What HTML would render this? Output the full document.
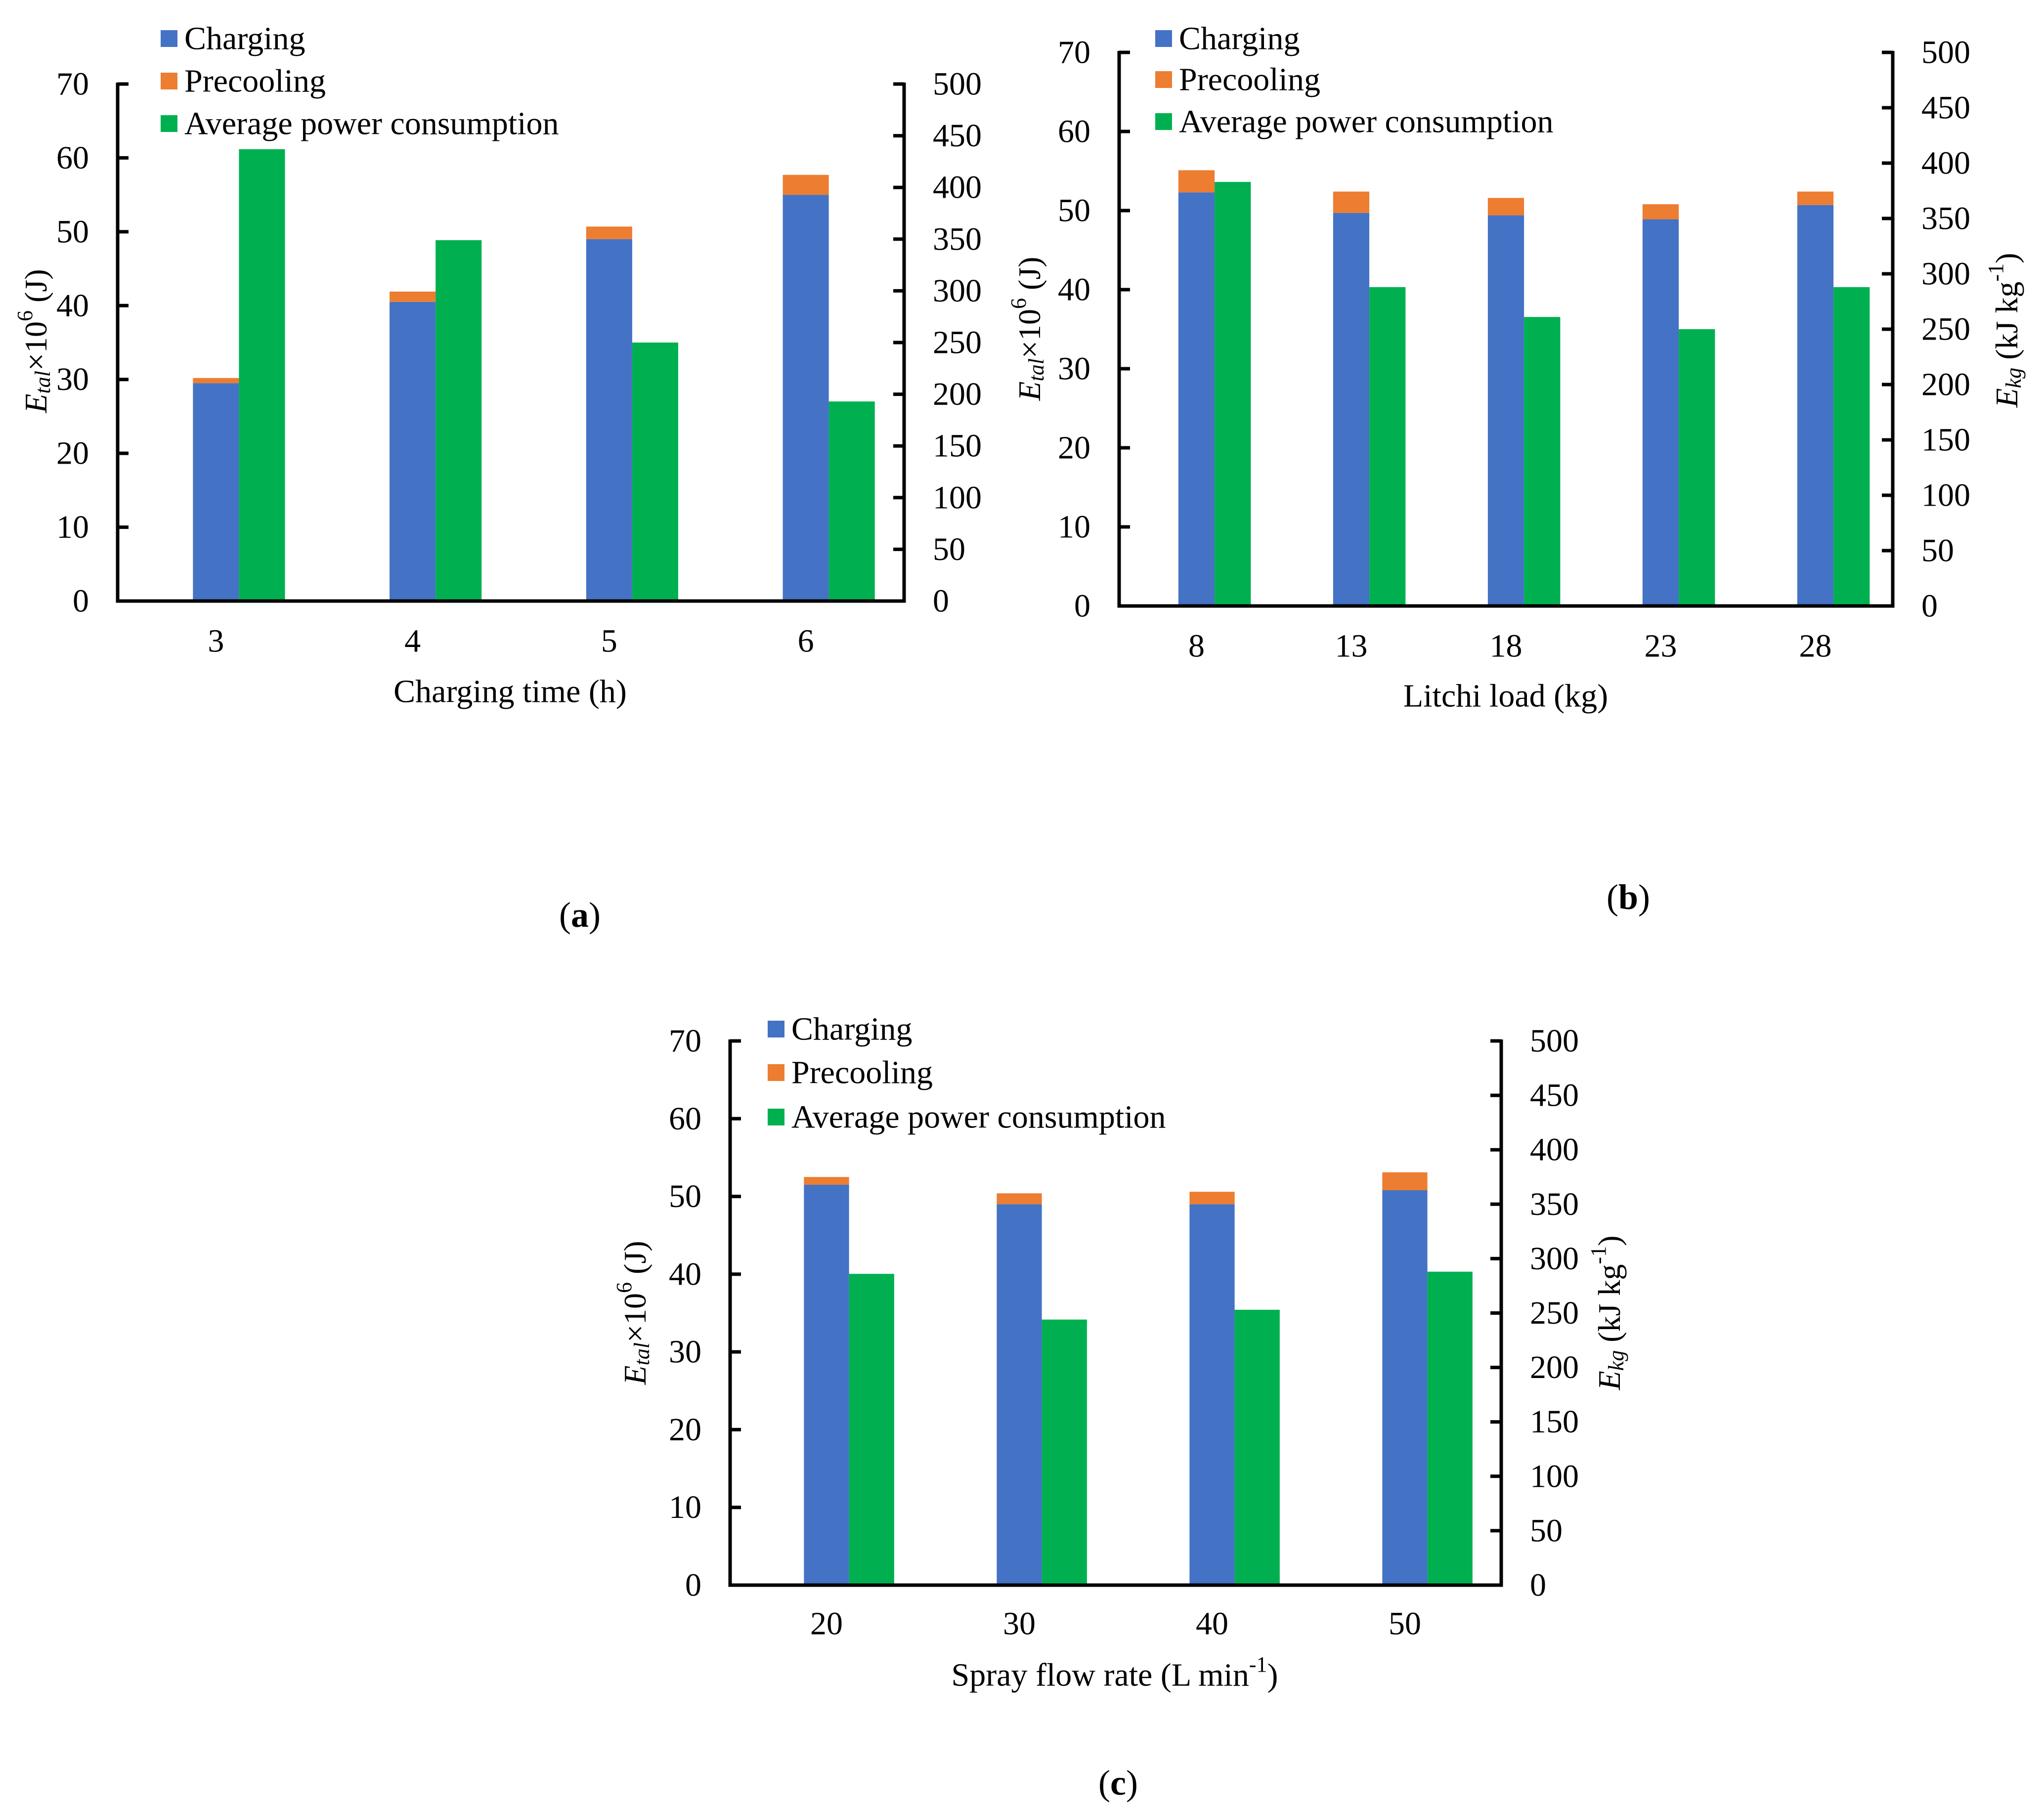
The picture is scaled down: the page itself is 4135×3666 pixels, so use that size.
<!DOCTYPE html>
<html><head><meta charset="utf-8"><style>
html,body{margin:0;padding:0;background:#fff;}
svg{display:block;font-family:"Liberation Serif",serif;}
</style></head><body>
<svg id="fig" width="4135" height="3666" viewBox="0 0 4135 3666" xmlns="http://www.w3.org/2000/svg">
</svg>
<script>
// ---- Chart (a) data ----
const aCategories = ["3", "4", "5", "6"];
const aCharging = [29.5, 40.5, 49.0, 55.0];
const aPrecooling = [0.7, 1.4, 1.7, 2.7];
const aPower = [437, 349, 250, 193];
// ---- Chart (b) data ----
const bCategories = ["8", "13", "18", "23", "28"];
const bCharging = [52.3, 49.7, 49.4, 48.9, 50.7];
const bPrecooling = [2.8, 2.7, 2.2, 1.9, 1.7];
const bPower = [383, 288, 261, 250, 288];
// ---- Chart (c) data ----
const cCategories = ["20", "30", "40", "50"];
const cCharging = [51.5, 49.0, 49.0, 50.8];
const cPrecooling = [1.0, 1.4, 1.6, 2.3];
const cPower = [286, 244, 253, 288];
// ---- shared tick labels ----
const leftTicks = [0, 10, 20, 30, 40, 50, 60, 70];
const rightTicks = [0, 50, 100, 150, 200, 250, 300, 350, 400, 450, 500];
const legendLabels = ["Charging", "Precooling", "Average power consumption"];

const NS = "http://www.w3.org/2000/svg";
const svg = document.getElementById("fig");
const COLORS = ["#4472C4", "#ED7D31", "#00B050"];

function mk(tag, attrs, parent) {
  const e = document.createElementNS(NS, tag);
  for (const k in attrs) e.setAttribute(k, attrs[k]);
  (parent || svg).appendChild(e);
  return e;
}
function txt(parent, x, y, s, size, anchor, extra) {
  const t = mk("text", Object.assign({x: x, y: y, "font-size": size, "text-anchor": anchor || "middle", "dominant-baseline": "central", fill: "#000"}, extra || {}), parent);
  t.textContent = s;
  return t;
}
function etalTitle(parent, x, y, name) {
  const t = mk("text", {x: x, y: y, "font-size": 64, "text-anchor": "middle", "dominant-baseline": "central", transform: "rotate(-90 " + x + " " + y + ")"}, parent);
  
  
  t.innerHTML = '<tspan font-style="italic">E</tspan><tspan font-style="italic" font-size="44" dy="14">tal</tspan><tspan dy="-14">×10</tspan><tspan font-size="44" dy="-22">6</tspan><tspan dy="22"> (J)</tspan>';
  return t;
}
function ekgTitle(parent, x, y, name) {
  const t = mk("text", {x: x, y: y, "font-size": 64, "text-anchor": "middle", "dominant-baseline": "central", transform: "rotate(-90 " + x + " " + y + ")"}, parent);
  
  
  t.innerHTML = '<tspan font-style="italic">E</tspan><tspan font-style="italic" font-size="44" dy="14">kg</tspan><tspan dy="-14"> (kJ kg</tspan><tspan font-size="44" dy="-22">-1</tspan><tspan dy="22">)</tspan>';
  return t;
}

function drawChart(cfg, cats, charging, precool, power) {
  const g = mk("g", {});
  
  
  const L = cfg.left, R = cfg.right, T = cfg.top, B = cfg.bottom;
  const yL = v => B - (v / 70) * (B - T);
  const yR = v => B - (v / 500) * (B - T);
  const cw = (R - L) / cats.length;
  const bw = cw * 0.234;
  const xC = i => L + cw * (i + 0.5);

  for (let i = 0; i < cats.length; i++) {
    const x0 = xC(i) - bw / 2;
    const b1 = mk("rect", {x: x0, y: yL(charging[i]), width: bw, height: B - yL(charging[i]), fill: COLORS[0]}, g);
    
    
    const top = charging[i] + precool[i];
    const b2 = mk("rect", {x: x0, y: yL(top), width: bw, height: yL(charging[i]) - yL(top), fill: COLORS[1]}, g);
    
    
    const b3 = mk("rect", {x: x0 + bw, y: yR(power[i]), width: bw, height: B - yR(power[i]), fill: COLORS[2]}, g);
    
    
    const lab = txt(g, xC(i), cfg.xLabelY, cats[i], 66);
    
    
  }
  const ax = mk("path", {d: "M" + L + " " + (T - 3) + " V" + B + " H" + R + " V" + (T - 3), fill: "none", stroke: "#000", "stroke-width": 7}, g);
  
  
  for (const v of leftTicks) {
    const tk = mk("line", {x1: L, x2: L + 22, y1: yL(v), y2: yL(v), stroke: "#000", "stroke-width": 7}, g);
    
    
    const tl = txt(g, L - 58, yL(v), String(v), 66, "end");
    
    
  }
  for (const v of rightTicks) {
    const tk = mk("line", {x1: R - 22, x2: R, y1: yR(v), y2: yR(v), stroke: "#000", "stroke-width": 7}, g);
    
    
    const tl = txt(g, R + 58, yR(v), String(v), 66, "start");
    
    
  }
  for (let k = 0; k < 3; k++) {
    const cy = cfg.legY[k];
    const sq = mk("rect", {x: cfg.legX, y: cy - 17, width: 34, height: 34, fill: COLORS[k]}, g);
    
    
    const lt = txt(g, cfg.legX + 48, cy, legendLabels[k], 66, "start");
    
    
  }
  const xt = txt(g, cfg.xTitle[0], cfg.xTitle[1], "", 66);
  xt.innerHTML = cfg.xTitleHtml;
  
  
  const pl = txt(g, cfg.panel[0], cfg.panel[1], "", 72);
  pl.innerHTML = '(<tspan font-weight="bold">' + cfg.letter + '</tspan>)';
  
  
  return g;
}

const gA = drawChart({name: "chart-a", left: 238, right: 1829, top: 170, bottom: 1216, xLabelY: 1297,
  legX: 325, legY: [78, 164, 250], xTitle: [1032, 1399], xTitleHtml: "Charging time (h)", panel: [1173, 1851], letter: "a"},
  aCategories, aCharging, aPrecooling, aPower);
etalTitle(gA, 72, 690, "y-axis-title-left");

const gB = drawChart({name: "chart-b", left: 2264, right: 3829, top: 106, bottom: 1226, xLabelY: 1307,
  legX: 2337, legY: [78, 161, 246], xTitle: [3046, 1408], xTitleHtml: "Litchi load (kg)", panel: [3294, 1815], letter: "b"},
  bCategories, bCharging, bPrecooling, bPower);
etalTitle(gB, 2082, 665, "y-axis-title-left");
ekgTitle(gB, 4059, 668, "y-axis-title-right");

const gC = drawChart({name: "chart-c", left: 1477, right: 3037, top: 2106, bottom: 3207, xLabelY: 3285,
  legX: 1553, legY: [2082, 2170, 2260], xTitle: [2255, 3389],
  xTitleHtml: 'Spray flow rate (L min<tspan font-size="44" dy="-22">-1</tspan><tspan dy="22">)</tspan>', panel: [2262, 3607], letter: "c"},
  cCategories, cCharging, cPrecooling, cPower);
etalTitle(gC, 1284, 2656, "y-axis-title-left");
ekgTitle(gC, 3255, 2656, "y-axis-title-right");
</script>
</body></html>
